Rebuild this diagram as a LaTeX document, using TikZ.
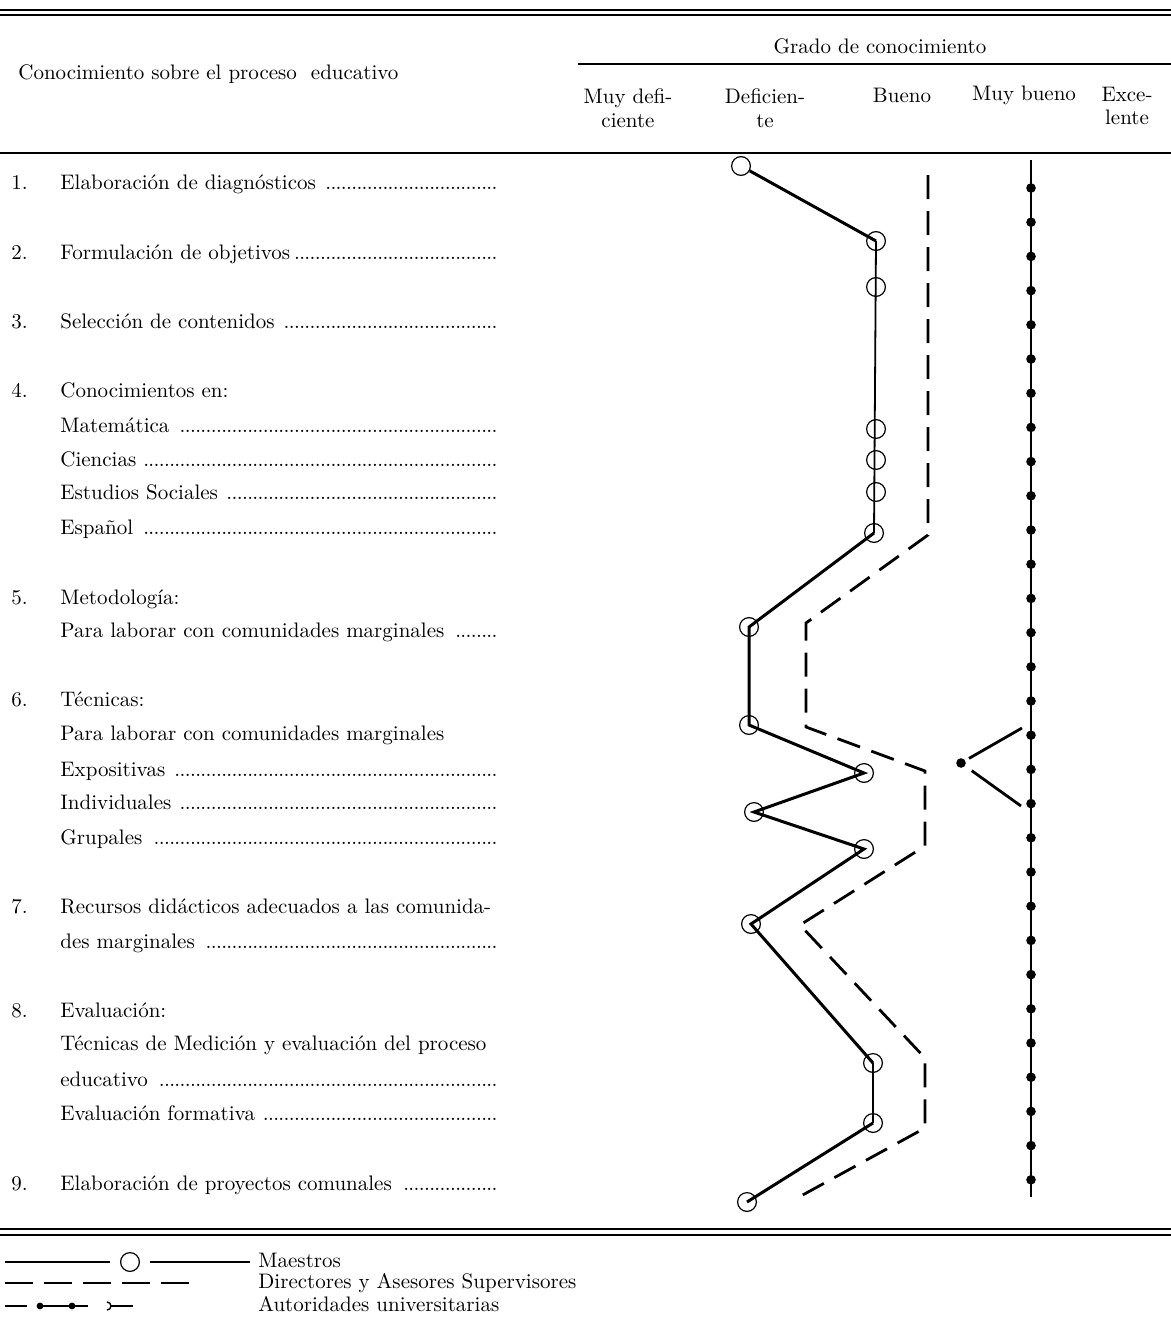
\documentclass[tikz,border=0pt]{standalone}
\usepackage{fontspec}

\newcommand\puntos{\leaders\hbox to 2.6pt{\hss.\hss}\hfill}
\newcommand\fila[1]{\hbox to 218.5pt{#1\puntos}}

\tikzset{
    texto/.style={anchor=west, inner sep=0pt, text height=7pt, text depth=2pt},
    cabecera/.style={inner sep=0pt, align=center},
    circulo/.style={circle, draw, minimum size=9.4pt, inner sep=0pt, line width=0.6pt},
    punto/.style={circle, fill, minimum size=4.8pt, inner sep=0pt},
    maestro/.style={line width=1.5pt},
    maestro fino/.style={line width=0.9pt},
    director/.style={line width=1.4pt, dash pattern=on 12pt off 6pt},
    autoridad/.style={line width=1.4pt}
}

\begin{document}
\begin{tikzpicture}[x=0.5pt, y=-0.5pt, font=\fontsize{10.5}{11.8}\selectfont]
        \fill[white] (0,0) rectangle (1171,1322);
        \useasboundingbox (0,0) rectangle (1171,1322);

        %%%%%%%%% Reglas %%%%%%%%%
        \draw[line width=1.2pt] (0,10) -- (1171,10);
        \draw[line width=0.7pt] (0,15) -- (1171,15);
        \draw[line width=0.6pt] (578,64) -- (1171,64);
        \draw[line width=0.7pt] (0,153) -- (1171,153);
        \draw[line width=1.2pt] (0,1229) -- (1171,1229);
        \draw[line width=0.7pt] (0,1235) -- (1171,1235);

        %%%%%%%% Cabeceras %%%%%%%%
        \node[texto] (titulo) at (18,75) {Conocimiento sobre el proceso\ \ educativo};
        \node[cabecera] (grado) at (880,46) {Grado de conocimiento};
        \node[cabecera] (c1) at (628,108) {Muy defi-\\ciente};
        \node[cabecera] (c2) at (765,108) {Deficien-\\te};
        \node[cabecera] (c3) at (902,95) {Bueno};
        \node[cabecera] (c4) at (1024,95) {Muy bueno};
        \node[cabecera] (c5) at (1127,106) {Exce-\\lente};

        %%%%%%%%% Numeros %%%%%%%%%
        \node[texto] (n1) at (11,184) {1.};
        \node[texto] (n2) at (11,254) {2.};
        \node[texto] (n3) at (11,323) {3.};
        \node[texto] (n4) at (11,392) {4.};
        \node[texto] (n5) at (11,599) {5.};
        \node[texto] (n6) at (11,701) {6.};
        \node[texto] (n7) at (11,908) {7.};
        \node[texto] (n8) at (11,1012) {8.};
        \node[texto] (n9) at (11,1185) {9.};

        %%%%%%%%% Filas %%%%%%%%%
        \node[texto] (r1) at (60,184) {\fila{Elaboración de diagnósticos }};
        \node[texto] (r2) at (60,254) {\fila{Formulación de objetivos}};
        \node[texto] (r3) at (60,323) {\fila{Selección de contenidos }};
        \node[texto] (r4) at (60,392) {Conocimientos en:};
        \node[texto] (mat) at (60,427) {\fila{Matemática }};
        \node[texto] (cie) at (60,461) {\fila{Ciencias }};
        \node[texto] (est) at (60,494) {\fila{Estudios Sociales }};
        \node[texto] (esp) at (60,529) {\fila{Español }};
        \node[texto] (r5) at (60,599) {Metodología:};
        \node[texto] (r5a) at (60,632) {\fila{Para laborar con comunidades marginales }};
        \node[texto] (r6) at (60,701) {Técnicas:};
        \node[texto] (r6a) at (60,735) {Para laborar con comunidades marginales};
        \node[texto] (expo) at (60,771) {\fila{Expositivas }};
        \node[texto] (indi) at (60,804) {\fila{Individuales }};
        \node[texto] (grup) at (60,839) {\fila{Grupales }};
        \node[texto] (r7) at (60,908) {Recursos didácticos adecuados a las comunida-};
        \node[texto] (r7a) at (60,943) {\fila{des marginales }};
        \node[texto] (r8) at (60,1012) {Evaluación:};
        \node[texto] (r8a) at (60,1045) {Técnicas de Medición y evaluación del proceso};
        \node[texto] (r8b) at (60,1081) {\fila{educativo }};
        \node[texto] (r8c) at (60,1115) {\fila{Evaluación formativa }};
        \node[texto] (r9) at (60,1185) {\fila{Elaboración de proyectos comunales }};

        %%%%%%%%% Maestros %%%%%%%%%
        \node[circulo] (m1) at (741,166) {};
        \node[circulo] (m2) at (876,241) {};
        \node[circulo] (m3) at (876,287) {};
        \node[circulo] (m4) at (876,429) {};
        \node[circulo] (m5) at (876,460) {};
        \node[circulo] (m6) at (876,492) {};
        \node[circulo] (m7) at (874,533) {};
        \node[circulo] (m8) at (749,627) {};
        \node[circulo] (m9) at (749,725) {};
        \node[circulo] (m10) at (864,773) {};
        \node[circulo] (m11) at (754,812) {};
        \node[circulo] (m12) at (864,849) {};
        \node[circulo] (m13) at (751,924) {};
        \node[circulo] (m14) at (873,1063) {};
        \node[circulo] (m15) at (873,1123) {};
        \node[circulo] (m16) at (747,1202) {};
        \draw[maestro] (m1) -- (m2.center);
        \draw[maestro fino] (m2.center) -- (m7.center);
        \draw[maestro] (m7.center) -- (m8.center) -- (m9.center) -- (m10.center) -- (m11.center)
            -- (m12.center) -- (m13.center) -- (m14.center);
        \draw[maestro fino] (m14.center) -- (m15.center);
        \draw[maestro] (m15.center) -- (m16.center);

        %%%%%%%% Directores %%%%%%%%
        \coordinate (d1) at (928,175);
        \coordinate (d2) at (928,535);
        \coordinate (d3) at (806,623);
        \coordinate (d4) at (806,727);
        \coordinate (d5) at (925,771);
        \coordinate (d6) at (925,846);
        \coordinate (d7) at (800,925);
        \coordinate (d8) at (925,1058);
        \coordinate (d9) at (925,1128);
        \coordinate (d10) at (799,1197);
        \draw[director] (d1) -- (d2) -- (d3) -- (d4) -- (d5) -- (d6) -- (d7) -- (d8) -- (d9) -- (d10);

        %%%%%%% Autoridades %%%%%%%
        \coordinate (a1) at (1031,160);
        \coordinate (a2) at (1031,1197);
        \draw[autoridad] (a1) -- (a2);
        \foreach \k in {0,...,29}
            \node[punto] (p\k) at (1031,{188+34.2*\k}) {};
        \node[punto] (v) at (961,763) {};
        \coordinate (v1) at (1022,728);
        \coordinate (v2) at (1021,806);
        \draw[autoridad, shorten <=2pt] (v) -- (v1);
        \draw[autoridad, shorten <=4pt] (v) -- (v2);

        %%%%%%%%% Leyenda %%%%%%%%%
        \node[circulo] (lm) at (130,1262) {};
        \coordinate (lm1) at (5,1262);
        \coordinate (lm2) at (250,1262);
        \draw[maestro fino, shorten >=5pt] (lm1) -- (lm);
        \draw[maestro fino, shorten <=5pt] (lm) -- (lm2);
        \coordinate (ld1) at (5,1283);
        \coordinate (ld2) at (190,1283);
        \draw[line width=1.1pt, dash pattern=on 14pt off 5.5pt] (ld1) -- (ld2);
        \coordinate (la1) at (5,1306);
        \coordinate (la2) at (27,1306);
        \node[punto, minimum size=3.4pt] (la3) at (40,1306) {};
        \node[punto, minimum size=3.4pt] (la4) at (72,1306) {};
        \coordinate (la5) at (88,1306);
        \coordinate (la6) at (111,1306);
        \coordinate (la7) at (133,1306);
        \draw[line width=1.1pt] (la1) -- (la2);
        \draw[line width=1.1pt] (la3.center) -- (la4.center) -- (la5);
        \draw[line width=0.7pt] (107,1302) arc[start angle=90, end angle=-90, radius=2pt];
        \draw[line width=1.1pt] (la6) -- (la7);
        \node[texto] (tm) at (258,1262) {Maestros};
        \node[texto] (td) at (258,1283) {Directores y Asesores Supervisores};
        \node[texto] (ta) at (258,1306) {Autoridades universitarias};
\end{tikzpicture}
\end{document}
